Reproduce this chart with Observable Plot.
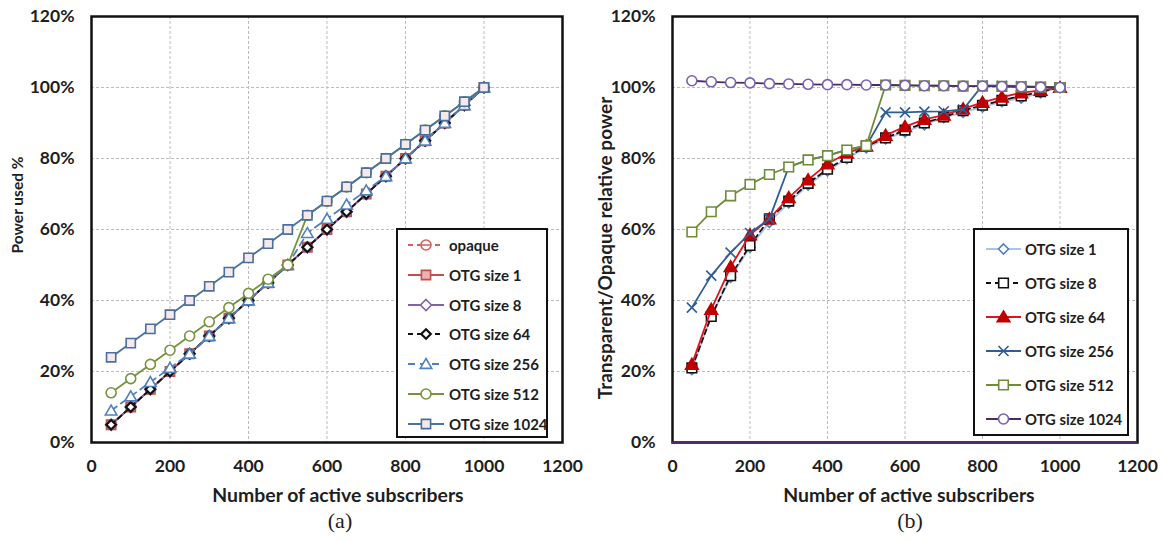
<!DOCTYPE html>
<html>
<head>
<meta charset="utf-8">
<script src="https://cdn.jsdelivr.net/npm/d3@7"></script>
<script src="https://cdn.jsdelivr.net/npm/@observablehq/plot@0.6"></script>
<style>
  body { margin: 0; background: #fff; }
  #root { position: relative; width: 1163px; height: 542px; overflow: hidden; font-family: Lato, "Open Sans", sans-serif; color: #1e1e1e; }
  .panel { position: absolute; top: 0; }
  .panel svg { overflow: visible; }
  .title { position: absolute; font-weight: 700; font-size: 19.4px; white-space: nowrap; transform: translate(-50%, -50%); }
  .ytitle { transform: translate(-50%, -50%) rotate(-90deg); }
  .caption { position: absolute; font-family: "Liberation Serif", "DejaVu Serif", serif; font-size: 22px; transform: translate(-50%, -50%); }
  .legend { position: absolute; background: #fff; border: 2.5px solid #111; box-sizing: border-box; }
  .legend .row { position: absolute; left: 0; height: 16px; transform: translateY(-50%); display: flex; align-items: center; font-weight: 700; white-space: nowrap; }
  .legend .row svg { position: absolute; top: 0; }
  .legend .row span { position: absolute; top: 50%; transform: translateY(-50%); }
</style>
</head>
<body>
<div id="root"></div>
<script>
// Number of active subscribers (shared x values of both panels)
const subscribers = [50, 100, 150, 200, 250, 300, 350, 400, 450, 500, 550, 600, 650, 700, 750, 800, 850, 900, 950, 1000];

// Panel (a): power used, %
const aOpaque   = [5, 10, 15, 20, 25, 30, 35, 40, 45, 50, 55, 60, 65, 70, 75, 80, 85, 90, 95, 100];
const aOtg1     = [5, 10, 15, 20, 25, 30, 35, 40, 45, 50, 55, 60, 65, 70, 75, 80, 85, 90, 95, 100];
const aOtg8     = [5, 10, 15, 20, 25, 30, 35, 40, 45, 50, 55, 60, 65, 70, 75, 80, 85, 90, 95, 100];
const aOtg64    = [5, 10, 15, 20, 25, 30, 35, 40, 45, 50, 55, 60, 65, 70, 75, 80, 85, 90, 95, 100];
const aOtg256   = [9, 13, 17, 21, 25, 30, 35, 40, 45, 50, 59, 63, 67, 71, 75, 80, 85, 90, 95, 100];
const aOtg512   = [14, 18, 22, 26, 30, 34, 38, 42, 46, 50, 64, 68, 72, 76, 80, 84, 88, 92, 96, 100];
const aOtg1024  = [24, 28, 32, 36, 40, 44, 48, 52, 56, 60, 64, 68, 72, 76, 80, 84, 88, 92, 96, 100];

// Panel (b): transparent / opaque relative power, %
const bOtg1     = [20.5, 35.5, 46.5, 55, 62, 67.5, 72.5, 76.5, 80, 83, 85.5, 87.5, 89.5, 91.5, 93, 94.5, 96, 97, 98.5, 100];
const bOtg8     = [21, 35.5, 47, 55.5, 63, 68, 73, 77, 80.3, 83.5, 85.8, 88, 90, 91.7, 93.5, 95, 96.4, 97.6, 98.8, 100];
const bOtg64    = [22, 37.5, 49.5, 58.5, 63, 69, 74, 78.5, 81.5, 83.5, 86.5, 89, 91, 92.2, 94, 95.8, 97.3, 98.5, 99.2, 100];
const bOtg256   = [38, 47, 53.5, 59, 63, 77.6, 79.6, 80.8, 82.4, 83.6, 93, 93, 93.2, 93.3, 93.8, 100.6, 100.5, 100.4, 100.2, 100];
const bOtg512   = [59.3, 65, 69.5, 72.7, 75.5, 77.6, 79.6, 80.8, 82.4, 83.6, 100.7, 100.6, 100.5, 100.5, 100.4, 100.4, 100.3, 100.2, 100.1, 100];
const bOtg1024  = [101.9, 101.6, 101.4, 101.3, 101.1, 101, 100.9, 100.8, 100.8, 100.7, 100.7, 100.6, 100.5, 100.5, 100.4, 100.4, 100.3, 100.2, 100.1, 100];

// Axis ticks and labels
const xTicks = [0, 200, 400, 600, 800, 1000, 1200];
const yTicks = [0, 20, 40, 60, 80, 100, 120];
const aTitleY = "Power used %";
const bTitleY = "Transparent/Opaque relative power";
const titleX = "Number of active subscribers";

// Marker shapes; r = sqrt(size / PI) is the half-extent in pixels
const rOf = size => Math.sqrt(size / Math.PI);
const shapes = {
  square:  { draw(c, s) { const r = rOf(s); c.rect(-r, -r, 2 * r, 2 * r); } },
  diamond: { draw(c, s) { const r = rOf(s); c.moveTo(0, -r); c.lineTo(r, 0); c.lineTo(0, r); c.lineTo(-r, 0); c.closePath(); } },
  triangle:{ draw(c, s) { const r = rOf(s); c.moveTo(0, -r); c.lineTo(r * 1.05, r * 0.8); c.lineTo(-r * 1.05, r * 0.8); c.closePath(); } },
  circle:  { draw(c, s) { const r = rOf(s); c.moveTo(r, 0); c.arc(0, 0, r, 0, 2 * Math.PI); c.closePath(); } },
  circleMinus: { draw(c, s) { const r = rOf(s); c.moveTo(r, 0); c.arc(0, 0, r, 0, 2 * Math.PI); c.closePath(); c.moveTo(-r, 0); c.lineTo(r, 0); } },
  times:   { draw(c, s) { const r = rOf(s); c.moveTo(-r, -r); c.lineTo(r, r); c.moveTo(-r, r); c.lineTo(r, -r); } }
};

// Series styles
const aSeries = [
  { name: "opaque",        values: aOpaque,  stroke: "#d0625a", dash: "5,4", shape: "circleMinus", r: 5,   mStroke: "#d0625a", fill: "#fff" },
  { name: "OTG size 1",    values: aOtg1,    stroke: "#c0504d", dash: null,  shape: "square",      r: 4.6, mStroke: "#c0504d", fill: "#eab2b1" },
  { name: "OTG size 8",    values: aOtg8,    stroke: "#8064a2", dash: null,  shape: "diamond",     r: 5.5, mStroke: "#8064a2", fill: "#fff" },
  { name: "OTG size 64",   values: aOtg64,   stroke: "#111",    dash: "5,4", shape: "diamond",     r: 4.8, mStroke: "#111",    fill: "#fff", mWidth: 2.2 },
  { name: "OTG size 256",  values: aOtg256,  stroke: "#4f81bd", dash: "7,5", shape: "triangle",    r: 5.5, mStroke: "#4f81bd", fill: "#fff" },
  { name: "OTG size 512",  values: aOtg512,  stroke: "#77933c", dash: null,  shape: "circle",      r: 5,   mStroke: "#77933c", fill: "#fff" },
  { name: "OTG size 1024", values: aOtg1024, stroke: "#4a72a4", dash: null,  shape: "square",      r: 4.6, mStroke: "#4a6f9c", fill: "#f6e9ec" }
];
const bSeries = [
  { name: "OTG size 1",    values: bOtg1,    stroke: "#a9c4e6", dash: null,  shape: "diamond",  r: 5,   mStroke: "#4f81bd", fill: "#fff" },
  { name: "OTG size 8",    values: bOtg8,    stroke: "#111",    dash: "5,4", shape: "square",   r: 4.8, mStroke: "#111",    fill: "#fff" },
  { name: "OTG size 64",   values: bOtg64,   stroke: "#e0141e", dash: null,  shape: "triangle", r: 6,   mStroke: "#c00000", fill: "#c00000" },
  { name: "OTG size 256",  values: bOtg256,  stroke: "#2f5d96", dash: null,  shape: "times",    r: 5,   mStroke: "#2f5d96", fill: "none" },
  { name: "OTG size 512",  values: bOtg512,  stroke: "#6f8c3a", dash: null,  shape: "square",   r: 4.8, mStroke: "#6f8c3a", fill: "#fff" },
  { name: "OTG size 1024", values: bOtg1024, stroke: "#4b2a66", dash: null,  shape: "circle",   r: 5,   mStroke: "#7a60b2", fill: "#fff" }
];

function seriesMarks(list) {
  const marks = [];
  for (const s of list) {
    const rows = subscribers.map((x, i) => ({ x, y: s.values[i] }));
    marks.push(Plot.line(rows, { x: "x", y: "y", stroke: s.stroke, strokeWidth: 1.8, strokeDasharray: s.dash || undefined }));
    marks.push(Plot.dot(rows, { x: "x", y: "y", symbol: shapes[s.shape], r: s.r, stroke: s.mStroke, fill: s.fill, strokeWidth: s.mWidth || 1.6 }));
  }
  return marks;
}

function panel({ width, marginRight, series, bottomRule }) {
  return Plot.plot({
    width, height: 505,
    marginLeft: 91, marginRight, marginTop: 16, marginBottom: 63,
    style: { fontFamily: "Lato, 'Open Sans', sans-serif", fontSize: "17.5px", fontWeight: 700, color: "#1e1e1e", background: "transparent" },
    x: { domain: [0, 1200] },
    y: { domain: [0, 120] },
    marks: [
      Plot.gridX(xTicks.slice(1, -1), { stroke: "#bcbcbc", strokeOpacity: 1, strokeDasharray: "3,2" }),
      Plot.gridY(yTicks.slice(1, -1), { stroke: "#bcbcbc", strokeOpacity: 1, strokeDasharray: "3,2" }),
      Plot.axisX(xTicks, { tickSize: 0, tickPadding: 17, label: null, tickFormat: d => String(d) }),
      Plot.axisY(yTicks, { tickSize: 0, tickPadding: 17, label: null, tickFormat: d => d + "%" }),
      ...seriesMarks(series),
      Plot.frame({ stroke: "#111", strokeWidth: 2.5 }),
      ...(bottomRule ? [Plot.ruleY([0], { stroke: bottomRule, strokeWidth: 2.5 })] : [])
    ]
  });
}

function legendSwatch(s, lineLen) {
  const svg = d3.create("svg").attr("width", lineLen).attr("height", 16);
  svg.append("line").attr("x1", 0).attr("x2", lineLen).attr("y1", 8).attr("y2", 8)
    .attr("stroke", s.stroke).attr("stroke-width", 1.8).attr("stroke-dasharray", s.dash || null);
  const p = d3.path();
  shapes[s.shape].draw(p, Math.PI * s.r * s.r);
  svg.append("path").attr("d", p.toString()).attr("transform", `translate(${lineLen / 2},8)`)
    .attr("stroke", s.mStroke).attr("fill", s.fill).attr("stroke-width", s.mWidth || 1.6);
  return svg.node();
}

function legend(root, series, { left, top, width, height, first, step, swatchLeft, lineLen, textLeft, fontSize }) {
  const box = document.createElement("div");
  box.className = "legend";
  Object.assign(box.style, { left: left + "px", top: top + "px", width: width + "px", height: height + "px" });
  series.forEach((s, i) => {
    const row = document.createElement("div");
    row.className = "row";
    row.style.top = (first + step * i) + "px";
    const sw = legendSwatch(s, lineLen);
    sw.style.left = swatchLeft + "px";
    row.appendChild(sw);
    const t = document.createElement("span");
    t.textContent = s.name;
    t.style.left = textLeft + "px";
    t.style.fontSize = fontSize + "px";
    row.appendChild(t);
    box.appendChild(row);
  });
  root.appendChild(box);
}

function label(root, cls, text, x, y, size) {
  const d = document.createElement("div");
  d.className = cls;
  d.textContent = text;
  d.style.left = x + "px";
  d.style.top = y + "px";
  if (size) d.style.fontSize = size + "px";
  root.appendChild(d);
}

const root = document.getElementById("root");

const pa = document.createElement("div");
pa.className = "panel"; pa.style.left = "0px";
pa.appendChild(panel({ width: 581, marginRight: 19, series: aSeries }));
root.appendChild(pa);

const pb = document.createElement("div");
pb.className = "panel"; pb.style.left = "581px";
pb.appendChild(panel({ width: 582, marginRight: 26, series: bSeries, bottomRule: "#4b2a66" }));
root.appendChild(pb);

legend(root, aSeries, { left: 396, top: 228, width: 152, height: 210, first: 15, step: 29.8, swatchLeft: 10, lineLen: 36, textLeft: 51, fontSize: 15 });
legend(root, bSeries, { left: 973, top: 228, width: 156, height: 208, first: 19, step: 34, swatchLeft: 11, lineLen: 35, textLeft: 50, fontSize: 14.8 });

label(root, "title ytitle", aTitleY, 17, 205, 15.5);
label(root, "title ytitle", bTitleY, 604, 248, 19);
label(root, "title", titleX, 338, 494);
label(root, "title", titleX, 909, 494);
label(root, "caption", "(a)", 340, 521);
label(root, "caption", "(b)", 910, 521);
</script>
</body>
</html>
